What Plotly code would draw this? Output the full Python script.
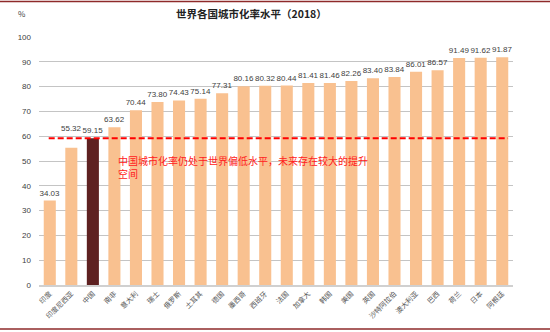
import plotly.graph_objects as go

countries = ["印度", "印度尼西亚", "中国", "南非", "意大利", "瑞士", "俄罗斯", "土耳其", "德国", "墨西哥",
             "西班牙", "法国", "加拿大", "韩国", "美国", "英国", "沙特阿拉伯", "澳大利亚", "巴西", "荷兰",
             "日本", "阿根廷"]
rates = [34.03, 55.32, 59.15, 63.62, 70.44, 73.80, 74.43, 75.14, 77.31, 80.16,
         80.32, 80.44, 81.41, 81.46, 82.26, 83.40, 83.84, 86.01, 86.57, 91.49,
         91.62, 91.87]
highlight = "中国"
china_rate = 59.15
raised_label = "印度尼西亚"   # label lifted above the dashed line in the original
y_ticks = [0, 10, 20, 30, 40, 50, 60, 70, 80, 90, 100]

FONT = "Noto Sans CJK SC, Liberation Sans, Arial, sans-serif"
NUMFONT = "Liberation Sans, Arial, sans-serif"
colors = ["#5E2121" if c == highlight else "#F9C190" for c in countries]
labels = ["" if c == raised_label else f"{v:.2f}" for c, v in zip(countries, rates)]

fig = go.Figure()
fig.add_trace(go.Bar(
    x=countries, y=rates, marker=dict(color=colors, line=dict(width=0)),
    text=labels, textposition="outside", texttemplate="%{text}", constraintext="none",
    textfont=dict(size=8, color="#404040", family=NUMFONT),
    cliponaxis=False, hoverinfo="skip",
))

for c, v in zip(countries, rates):
    if c == raised_label:
        fig.add_annotation(x=c, y=v, xref="x", yref="y", text=f"{v:.2f}", showarrow=False,
                           yanchor="bottom", yshift=13, font=dict(size=8, color="#404040", family=NUMFONT))

L, R, T, B = 39, 37, 37, 47
W, H = 550, 332
pw, ph = W - L - R, H - T - B

fig.update_layout(
    width=W, height=H,
    margin=dict(l=L, r=R, t=T, b=B, pad=0),
    paper_bgcolor="white", plot_bgcolor="white",
    bargap=0.44, showlegend=False,
    font=dict(family=FONT),
    xaxis=dict(type="category", tickangle=-45, tickfont=dict(size=7, color="#555555"),
               showline=True, linecolor="#D0D0D0", linewidth=2, ticks="", showgrid=False,
               range=[-0.5, len(countries) - 0.5]),
    yaxis=dict(range=[0, 100], tickvals=y_ticks, showgrid=True, gridcolor="#C4C4C4", gridwidth=1,
               zeroline=False, tickfont=dict(size=8, color="#404040", family=NUMFONT),
               ticks="", ticklen=0, showline=False),
)
fig.update_yaxes(ticklabelstandoff=7)

fig.add_shape(type="line", xref="x", yref="y", x0=-0.05, x1=21.27, y0=china_rate, y1=china_rate,
              line=dict(color="#FF0000", width=2, dash="6px,3px"))

# border lines
fig.add_shape(type="line", xref="paper", yref="paper", x0=-L / pw, x1=(W - L) / pw,
              y0=(ph + T - 1.5) / ph, y1=(ph + T - 1.5) / ph, line=dict(color="#8E2A2A", width=1.5))
fig.add_shape(type="line", xref="paper", yref="paper", x0=-L / pw, x1=(W - L) / pw,
              y0=-(329 - (T + ph)) / ph, y1=-(329 - (T + ph)) / ph, line=dict(color="#8E2A2A", width=1.5))

fig.add_annotation(text="<b>世界各国城市化率水平（2018）</b>", xref="paper", yref="paper",
                   x=(251 - L) / pw, y=(T + ph - 14) / ph, xanchor="center", yanchor="middle",
                   showarrow=False, font=dict(size=10.5, color="#222222", family=FONT))
fig.add_annotation(text="%", xref="paper", yref="paper",
                   x=(22 - L) / pw, y=(T + ph - 13) / ph, xanchor="center", yanchor="middle",
                   showarrow=False, font=dict(size=8, color="#404040"))
fig.add_annotation(text="中国城市化率仍处于世界偏低水平，未来存在较大的提升<br>空间", xref="paper", yref="paper",
                   x=(116 - L) / pw, y=(T + ph - 167) / ph, xanchor="left", yanchor="middle", align="left",
                   showarrow=False, font=dict(size=10, color="#FF2020", family=FONT))

fig.write_html("out.html")
